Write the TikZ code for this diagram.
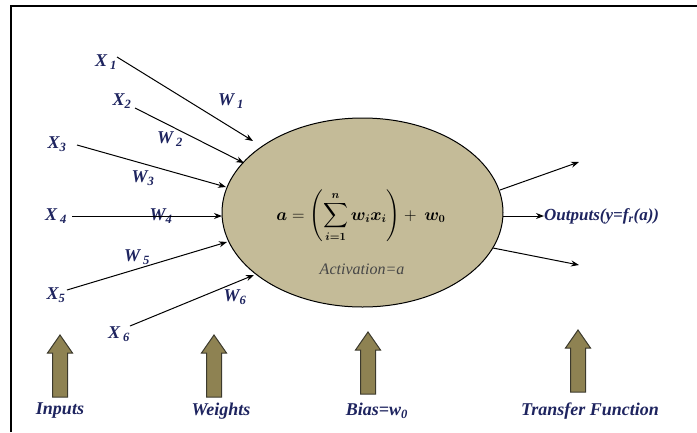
\documentclass[tikz,border=0pt]{standalone}
\usepackage{amsmath}
\usepackage{exscale}
\usepackage{fontspec}
\setmainfont{Liberation Serif}
\usepackage{bm}
\usetikzlibrary{arrows.meta,shapes.geometric}
\definecolor{navy}{RGB}{30,36,95}
\definecolor{neurontan}{RGB}{196,187,152}
\definecolor{olive}{RGB}{142,130,82}
\definecolor{olivedark}{RGB}{60,58,45}
\definecolor{actgray}{RGB}{70,70,70}
\newcommand{\neuroneq}{$\displaystyle \bm{a} = \left(\sum_{\bm{i=1}}^{\bm{n}} \bm{w_i x_i}\right) +\ \bm{w_0}$}
\begin{document}
\begin{tikzpicture}[x=1pt,y=-1pt,
  lbl/.style={font=\fontsize{18}{21}\selectfont\bfseries\itshape, text=navy, inner sep=0pt},
  wire/.style={line width=1pt, -{Stealth[length=8pt,width=6pt]}},
  blockarrow/.style={fill=olive, draw=olivedark, line width=1pt, line join=miter},
  uparrow/.pic={\draw[blockarrow] (-7.5,31) -- (-7.5,-13) -- (-12.5,-13) -- (0,-31) -- (12.5,-13) -- (7.5,-13) -- (7.5,31) -- cycle;}
]
\useasboundingbox (0,0) rectangle (697,432);
\draw[line width=2pt] (11,432) -- (11,6) -- (697,6);

% neuron
\node[ellipse, draw, line width=1pt, fill=neurontan, minimum width=281pt, minimum height=189pt, inner sep=0pt] (neuron) at (362.5,212.5) {};
\node[inner sep=0pt, font=\fontsize{16}{19}\selectfont] (formula) at (361,216) {\neuroneq};
\node[inner sep=0pt, font=\fontsize{16}{19}\selectfont\itshape, text=actgray] (act) at (362,269) {Activation=a};

% inputs
\node[lbl] (x1) at (106,62) {X\,\textsubscript{1}};
\node[lbl] (x2) at (122,101) {X\textsubscript{2}};
\node[lbl] (x3) at (57,144) {X\textsubscript{3}};
\node[lbl] (x4) at (56,216) {X\,\textsubscript{4}};
\node[lbl] (x5) at (56,295) {X\textsubscript{5}};
\node[lbl] (x6) at (119,334) {X\,\textsubscript{6}};

% weights
\node[lbl] (w1) at (231,101) {W\,\textsubscript{1}};
\node[lbl] (w2) at (170,139) {W\,\textsubscript{2}};
\node[lbl] (w3) at (143,178) {W\textsubscript{3}};
\node[lbl] (w4) at (161,216) {W\textsubscript{4}};
\node[lbl] (w5) at (137,257) {W\,\textsubscript{5}};
\node[lbl] (w6) at (235,297) {W\textsubscript{6}};

% wire endpoints
\coordinate (s1) at (117,57);  \coordinate (e1) at (253,141);
\coordinate (s2) at (135,108); \coordinate (e2) at (244,163);
\coordinate (s3) at (77,145);  \coordinate (e3) at (226,187);
\coordinate (s4) at (72,216);  \coordinate (e4) at (222,216);
\coordinate (s5) at (67,290);  \coordinate (e5) at (227,242);
\coordinate (s6) at (130,326); \coordinate (e6) at (254,275);

\draw[wire] (s1) -- (e1);
\draw[wire] (s2) -- (e2);
\draw[wire] (s3) -- (e3);
\draw[wire] (s4) -- (e4);
\draw[wire] (s5) -- (e5);
\draw[wire] (s6) -- (e6);

% outputs
\node[lbl, font=\fontsize{17}{20}\selectfont\bfseries\itshape, anchor=west] (out) at (544,216) {Outputs(y=f\textsubscript{r}(a))};
\coordinate (o1s) at (500,190); \coordinate (o1e) at (579,162);
\coordinate (o2s) at (503,216);
\coordinate (o3s) at (493,248); \coordinate (o3e) at (579,265);
\draw[wire] (o1s) -- (o1e);
\draw[wire] (o2s) -- (out.west);
\draw[wire] (o3s) -- (o3e);

% block arrows
\pic at (60,366) {uparrow};
\pic at (214,366) {uparrow};
\pic at (368,363) {uparrow};
\pic at (578,361) {uparrow};

% bottom labels
\node[lbl] (inputs) at (60,411) {Inputs};
\node[lbl] (weights) at (221,411) {Weights};
\node[lbl] (bias) at (377,411) {Bias=w\textsubscript{0}};
\node[lbl] (transfer) at (590,411) {Transfer Function};
\end{tikzpicture}
\end{document}
